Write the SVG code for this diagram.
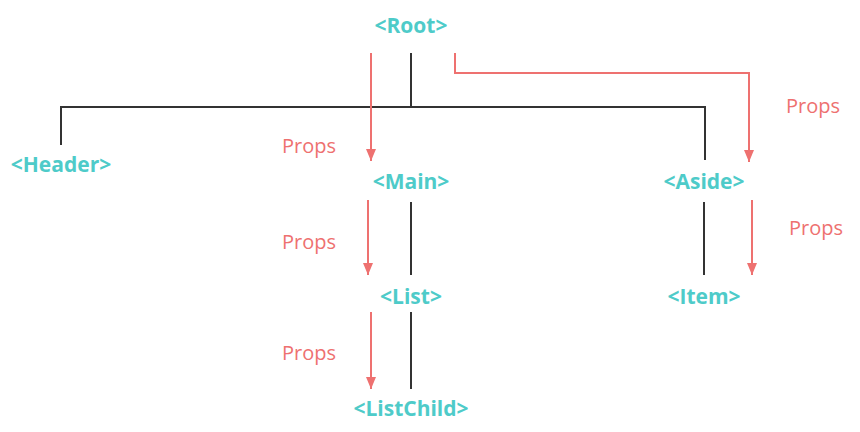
<svg xmlns="http://www.w3.org/2000/svg" width="860" height="432" viewBox="0 0 860 432">
<defs>
<marker id="ah" viewBox="0 0 12 10" refX="12" refY="5" markerWidth="12" markerHeight="10" markerUnits="userSpaceOnUse" orient="auto">
<path d="M0,0 L12,5 L0,10 z" fill="#ee7170"/>
</marker>
<style>
.n{font-family:"Open Sans","Noto Sans",sans-serif;font-weight:bold;font-size:21px;fill:#4ecbc9;text-anchor:middle}
.p{font-family:"Open Sans","Noto Sans",sans-serif;font-size:20px;fill:#ee7170}
.t{stroke:#333;stroke-width:2;fill:none}
.r{stroke:#ee7170;stroke-width:2;fill:none;marker-end:url(#ah)}
</style>
</defs>
<rect width="860" height="432" fill="#fff"/>
<g id="connectors">
<path class="t" d="M411,53 V107"/>
<path class="t" d="M61,145 V107 H705 V160"/>
<path class="t" d="M411,202 V275"/>
<path class="t" d="M411,312 V389"/>
<path class="t" d="M704,202 V275"/>
<path class="r" d="M371,53 V161"/>
<path class="r" d="M455,53 V73 H749 V162"/>
<path class="r" d="M368,200 V275"/>
<path class="r" d="M371,312 V389"/>
<path class="r" d="M752,200 V275"/>
<text class="p" x="282" y="153">Props</text>
<text class="p" x="786" y="113">Props</text>
<text class="p" x="282" y="249">Props</text>
<text class="p" x="282" y="360">Props</text>
<text class="p" x="789" y="235">Props</text>
</g>
<g id="root"><text class="n" x="411" y="33">&lt;Root&gt;</text></g>
<g id="header"><text class="n" x="61" y="172">&lt;Header&gt;</text></g>
<g id="main"><text class="n" x="411" y="189">&lt;Main&gt;</text></g>
<g id="aside"><text class="n" x="704" y="189">&lt;Aside&gt;</text></g>
<g id="list"><text class="n" x="411" y="304">&lt;List&gt;</text></g>
<g id="item"><text class="n" x="704" y="304">&lt;Item&gt;</text></g>
<g id="listchild"><text class="n" x="411" y="416">&lt;ListChild&gt;</text></g>
</svg>
